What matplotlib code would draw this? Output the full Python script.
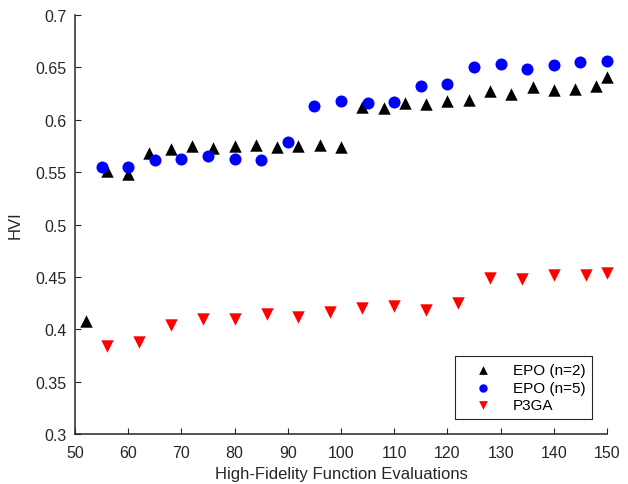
import matplotlib
matplotlib.use("Agg")
import matplotlib.pyplot as plt

plt.rcParams["font.family"] = ["Liberation Sans", "DejaVu Sans"]

# EPO with n=2
epo2_x = [52, 56, 60, 64, 68, 72, 76, 80, 84, 88, 92, 96, 100,
          104, 108, 112, 116, 120, 124, 128, 132, 136, 140, 144, 148, 150]
epo2_y = [0.408, 0.551, 0.548, 0.568, 0.572, 0.575, 0.573, 0.575, 0.576, 0.574, 0.575, 0.576, 0.574,
          0.612, 0.611, 0.616, 0.615, 0.618, 0.619, 0.627, 0.625, 0.631, 0.628, 0.629, 0.632, 0.641]

# EPO with n=5
epo5_x = [55, 60, 65, 70, 75, 80, 85, 90, 95, 100,
          105, 110, 115, 120, 125, 130, 135, 140, 145, 150]
epo5_y = [0.555, 0.555, 0.562, 0.563, 0.565, 0.563, 0.562, 0.579, 0.613, 0.618,
          0.616, 0.617, 0.632, 0.634, 0.650, 0.653, 0.648, 0.652, 0.655, 0.656]

# P3GA
p3ga_x = [56, 62, 68, 74, 80, 86, 92, 98, 104, 110, 116, 122, 128, 134, 140, 146, 150]
p3ga_y = [0.384, 0.388, 0.404, 0.410, 0.410, 0.415, 0.412, 0.416, 0.420, 0.422,
          0.418, 0.425, 0.449, 0.448, 0.452, 0.452, 0.454]

x_ticks = list(range(50, 151, 10))
y_ticks = [0.3, 0.35, 0.4, 0.45, 0.5, 0.55, 0.6, 0.65, 0.7]
y_tick_labels = ["0.3", "0.35", "0.4", "0.45", "0.5", "0.55", "0.6", "0.65", "0.7"]

fig = plt.figure(figsize=(6.28, 4.85), dpi=100)
ax = fig.add_axes([0.1194, 0.1031, 0.8472, 0.8639])

ax.scatter(epo2_x, epo2_y, marker="^", s=80, color="black", linewidths=0,
           label="EPO (n=2)", zorder=3, clip_on=False)
ax.scatter(epo5_x, epo5_y, marker="o", s=75, color="#0000ff", linewidths=0,
           label="EPO (n=5)", zorder=3, clip_on=False)
ax.scatter(p3ga_x, p3ga_y, marker="v", s=80, color="#ff0000", linewidths=0,
           label="P3GA", zorder=3, clip_on=False)

ax.set_xlim(50, 150)
ax.set_ylim(0.3, 0.7)
ax.set_xticks(x_ticks)
ax.set_yticks(y_ticks)
ax.set_yticklabels(y_tick_labels)

for side in ["top", "right"]:
    ax.spines[side].set_visible(False)
for side in ["left", "bottom"]:
    ax.spines[side].set_color("#262626")
    ax.spines[side].set_linewidth(1.1)

ax.tick_params(direction="in", length=4, width=0.8, color="#262626",
               labelsize=11.5, labelcolor="#262626")
ax.tick_params(axis="x", pad=8)
ax.tick_params(axis="y", pad=6)

ax.set_xlabel("High-Fidelity Function Evaluations", fontsize=12, color="#262626", labelpad=4)
ax.set_ylabel("HVI", fontsize=12, color="#262626", labelpad=9)

leg = ax.legend(loc="lower right", bbox_to_anchor=(0.972, 0.035), borderaxespad=0,
                fontsize=11, frameon=True, fancybox=False, edgecolor="#262626",
                framealpha=1, markerscale=0.7, handletextpad=0.55, borderpad=0.45,
                labelspacing=0.25, handlelength=2.75)
leg.get_frame().set_linewidth(0.8)

fig.savefig("out.png", dpi=100)
